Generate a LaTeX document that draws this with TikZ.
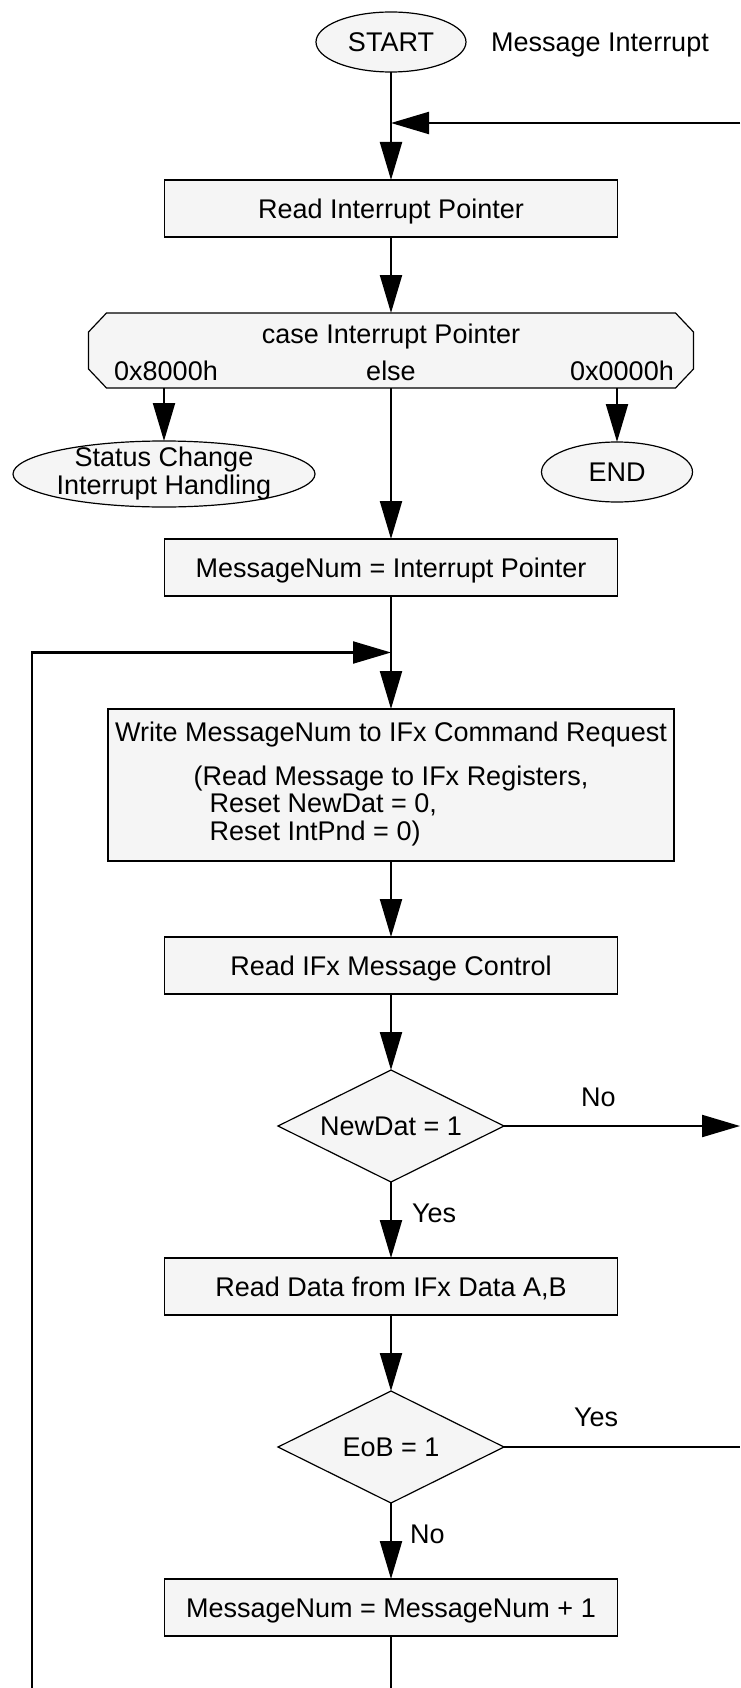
\documentclass[tikz,border=0pt]{standalone}
\usepackage{fontspec}
\setmainfont{Liberation Sans}
\usetikzlibrary{arrows.meta,positioning,shapes.geometric,calc}
\definecolor{BoxGray}{HTML}{F5F5F5}

\begin{document}
\begin{tikzpicture}[
        x=1pt, y=-1pt,
        node distance=76pt,
        font=\fontsize{27}{27}\selectfont,
        oneline/.style={text height=19.5pt, text depth=0pt},
        bigbox/.style={rectangle, draw, line width=1.2pt, fill=BoxGray, minimum width=453pt, minimum height=57pt, inner sep=0pt, outer sep=0pt, align=center},
        box/.style={bigbox, oneline},
        term/.style={ellipse, draw, line width=1.2pt, fill=BoxGray, minimum width=150pt, minimum height=60pt, inner sep=0pt, outer sep=0pt, oneline},
        decide/.style={diamond, draw, line width=1.2pt, fill=BoxGray, minimum width=226pt, minimum height=112pt, inner sep=0pt, outer sep=0pt, aspect=2, oneline},
        casebox/.style={rectangle, minimum width=605pt, minimum height=75pt, inner sep=0pt, outer sep=0pt},
        caseline/.style={draw, line width=1.2pt, fill=BoxGray},
        conn/.style={-{Triangle[length=38pt,width=22pt]}, line width=2.2pt},
        flow/.style={line width=2.2pt},
        lbl/.style={inner sep=0pt}
      ]
        \useasboundingbox (0,0) rectangle (740,1688);

        % Main column
        \node[term] (start) at (391,42) {START};
        \node[lbl, oneline, right=25pt of start] (msgint) {Message Interrupt};
        \node[box, below=108pt of start] (rip) {Read Interrupt Pointer};
        \node[casebox, below=of rip] (case) {};
        % chamfered outline of the case box
        \path[caseline] ([xshift=18pt]case.north west) -- ([xshift=-18pt]case.north east)
          -- ([yshift=-19pt]case.north east) -- ([yshift=19pt]case.south east)
          -- ([xshift=-18pt]case.south east) -- ([xshift=18pt]case.south west)
          -- ([yshift=19pt]case.south west) -- ([yshift=-19pt]case.north west) -- cycle;
        \node[lbl, oneline] (casetitle) at (391,334) {case Interrupt Pointer};
        \node[lbl, oneline] (case8000) at (166,371) {0x8000h};
        \node[lbl, oneline] (caseelse) at (391,371) {else};
        \node[lbl, oneline] (case0000) at (622,371) {0x0000h};
        \node[term, minimum width=302pt, minimum height=66pt] (sch) at (164,474) {};
        \node[lbl, align=center] (schtext) at (sch) {Status Change\\[1pt]Interrupt Handling};
        \node[term, minimum width=151pt] (endn) at (617,472) {END};
        \node[box, below=151pt of case] (mnip) {MessageNum = Interrupt Pointer};
        \node[bigbox, minimum width=566pt, minimum height=152pt, below=113pt of mnip] (write) {
          Write MessageNum to IFx Command Request\\[17pt]
          \begin{tabular}[t]{@{}l@{}}
            (Read Message to IFx Registers,\\
            \hspace{16pt}Reset NewDat = 0,\\
            \hspace{16pt}Reset IntPnd = 0)
          \end{tabular}
        };
        \node[box, below=of write] (rimc) {Read IFx Message Control};
        \node[decide, below=of rimc] (newdat) {NewDat = 1};
        \node[box, below=of newdat] (rdata) {Read Data from IFx Data A,B};
        \node[decide, below=of rdata] (eob) {EoB = 1};
        \node[box, below=of eob] (mnp1) {MessageNum = MessageNum + 1};

        % Loose ends at the picture edge
        \coordinate (retin) at (740,123);
        \coordinate (loopbot) at (32,1688);

        % Connectors
        \draw[conn] (retin) -- (retin -| start.south);
        \draw[conn] (start) -- (rip);
        \draw[conn] (rip) -- (case);
        \draw[conn] (case.south -| sch.north) -- (sch.north);
        \draw[conn] (case.south -| endn.north) -- (endn.north);
        \draw[conn] (case) -- (mnip);
        \draw[conn] (mnip) -- (write);
        \draw[conn] (loopbot) |- ($(mnip.south)!0.5!(write.north)$);
        \draw[conn] (write) -- (rimc);
        \draw[conn] (rimc) -- (newdat);
        \draw[conn] (newdat) -- node[lbl, oneline, right=20pt, pos=0.4] {Yes} (rdata);
        \draw[conn] (newdat.east) -- node[lbl, oneline, above=18pt, pos=0.4] {No} (newdat.east -| retin);
        \draw[conn] (rdata) -- (eob);
        \draw[conn] (eob) -- node[lbl, oneline, right=18pt, pos=0.4] {No} (mnp1);
        \draw[flow] (eob.east) -- node[lbl, oneline, above=19pt, pos=0.39] {Yes} (eob.east -| retin);
        \draw[flow] (mnp1) -- (mnp1.south |- loopbot);

      \end{tikzpicture}
\end{document}
